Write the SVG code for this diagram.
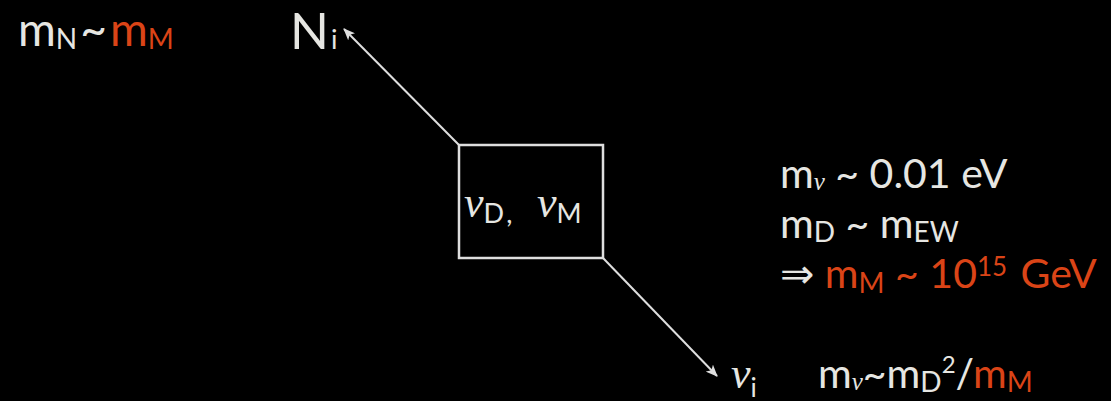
<svg xmlns="http://www.w3.org/2000/svg" width="1111" height="401" viewBox="0 0 1111 401">
<style>
.t{font-family:Lato,"DejaVu Sans",sans-serif;fill:#e6e6e2}
.o{fill:#da4417}
.nu{font-family:"Liberation Serif",serif;font-style:italic}
.ln{stroke:#dedede;stroke-width:2;fill:none}
</style>
<defs>
<marker id="ah" viewBox="0 0 12 10" refX="11" refY="5" markerWidth="12" markerHeight="10" markerUnits="userSpaceOnUse" orient="auto">
<path d="M0,0 L12,5 L0,10 L3,5 z" fill="#dedede"/>
</marker>
</defs>
<rect width="1111" height="401" fill="#000"/>
<g id="connectors">
<line class="ln" x1="459" y1="145" x2="344" y2="29" marker-end="url(#ah)"/>
<line class="ln" x1="603" y1="258" x2="717" y2="376" marker-end="url(#ah)"/>
</g>
<g id="box">
<rect x="459" y="145" width="144" height="113" fill="none" stroke="#dedede" stroke-width="2.5"/>
<text class="t" x="464" y="217" font-size="44"><tspan class="nu">ν</tspan><tspan font-size="27" dy="6">D</tspan><tspan font-size="27" dx="3">,</tspan><tspan class="nu" x="537" dy="-6">ν</tspan><tspan font-size="27" dy="6">M</tspan></text>
</g>
<g id="N">
<text class="t" x="290" y="49" font-size="51">N<tspan font-size="27" dx="2">i</tspan></text>
</g>
<g id="nu">
<text class="t" x="731" y="388" font-size="44"><tspan class="nu">ν</tspan><tspan font-size="26" dy="9">i</tspan></text>
</g>
<g id="mN">
<text class="t" x="18" y="46" font-size="46">m<tspan font-size="28" dy="3">N</tspan><tspan dy="-3" dx="3">~</tspan><tspan class="o" dx="3">m</tspan><tspan class="o" font-size="28" dy="3">M</tspan></text>
</g>
<g id="relations">
<text class="t" x="780" y="188" font-size="41">m<tspan class="nu" font-size="25" dy="2">ν</tspan><tspan dy="-2"> ~ 0.01  eV</tspan></text>
<text class="t" x="780" y="238" font-size="41">m<tspan font-size="28" dy="4">D</tspan><tspan dy="-4"> ~ m</tspan><tspan font-size="28" dy="4">EW</tspan></text>
<text class="t" x="780" y="288" font-size="41">⇒ <tspan class="o">m</tspan><tspan class="o" font-size="28" dy="5">M</tspan><tspan class="o" dy="-5"> ~ 10</tspan><tspan class="o" font-size="26" dy="-12">15</tspan><tspan class="o" dy="12" dx="3"> GeV</tspan></text>
</g>
<g id="seesaw">
<text class="t" x="818" y="388" font-size="41">m<tspan class="nu" font-size="25" dy="2">ν</tspan><tspan dy="-2">~m</tspan><tspan font-size="28" dy="4">D</tspan><tspan font-size="24" dy="-19">2</tspan><tspan dy="15">/</tspan><tspan class="o">m</tspan><tspan class="o" font-size="28" dy="4">M</tspan></text>
</g>
</svg>
